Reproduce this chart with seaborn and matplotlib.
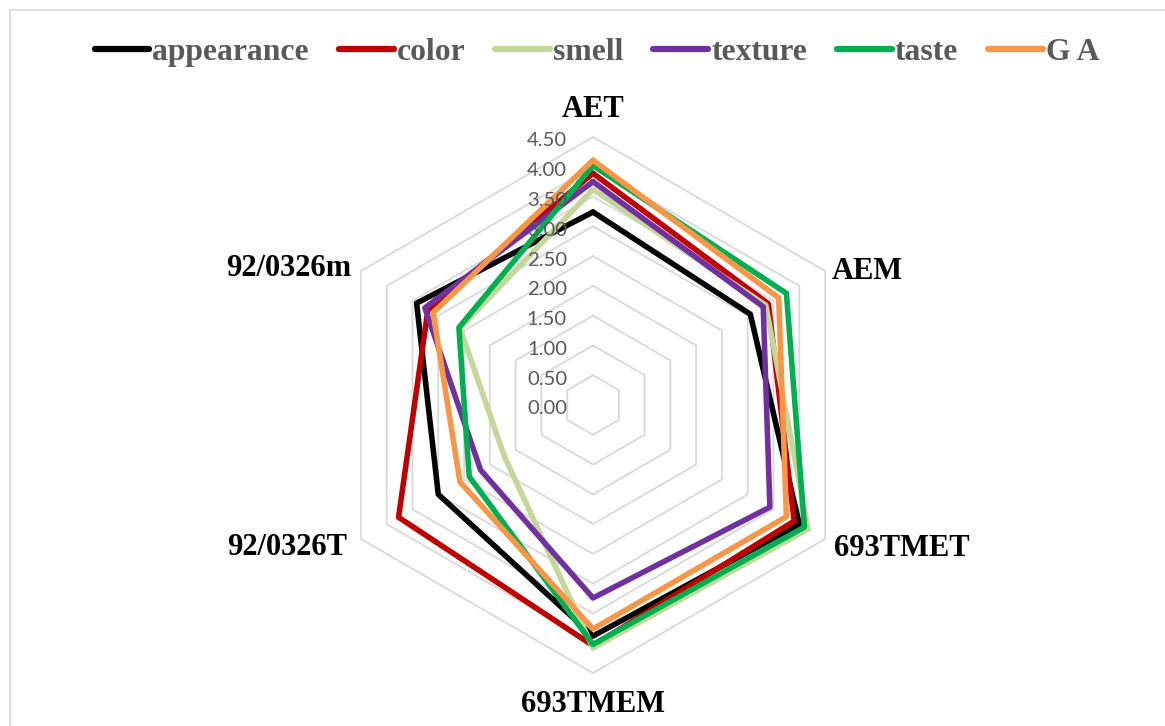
import numpy as np
import pandas as pd
import matplotlib
matplotlib.use("Agg")
import matplotlib.pyplot as plt
from matplotlib.lines import Line2D
from matplotlib.patches import Rectangle
import seaborn as sns

# Sensory scores per sample (clockwise from the top)
samples = ["AET", "AEM", "693TMET", "693TMEM", "92/0326T", "92/0326m"]
appearance = [3.24, 3.05, 4.00, 3.88, 3.00, 3.42]
color = [3.89, 3.40, 3.90, 4.04, 3.77, 3.20]
smell = [3.62, 3.35, 4.17, 4.08, 1.72, 2.58]
texture = [3.75, 3.30, 3.43, 3.24, 2.18, 3.26]
taste = [4.02, 3.75, 4.10, 4.02, 2.40, 2.60]
ga = [4.11, 3.60, 3.75, 3.76, 2.58, 3.10]

series_names = ["appearance", "color", "smell", "texture", "taste", "G A"]
series_values = [appearance, color, smell, texture, taste, ga]
series_colors = ["#000000", "#C00000", "#C4D79B", "#7030A0", "#00B050", "#F79646"]
ring_levels = [0.5, 1.0, 1.5, 2.0, 2.5, 3.0, 3.5, 4.0, 4.5]
tick_labels = ["0.00", "0.50", "1.00", "1.50", "2.00", "2.50", "3.00", "3.50", "4.00", "4.50"]

n = len(samples)
angles = np.linspace(0, 2 * np.pi, n, endpoint=False)
closed_angles = np.append(angles, 2 * np.pi)

rows = []
for name, vals in zip(series_names, series_values):
    for th, v in zip(closed_angles, vals + vals[:1]):
        rows.append({"attribute": name, "theta": th, "score": v})
df = pd.DataFrame(rows)

sns.set_theme(style="white")
plt.rcParams["font.family"] = ["Liberation Serif", "DejaVu Serif"]

W, H = 1165, 726
fig = plt.figure(figsize=(W / 100, H / 100), dpi=100)
fig.patch.set_facecolor("white")

# light frame around the chart area
fig.patches.append(Rectangle((10 / W, -0.1), 1.2, 1 - 10 / H + 0.1,
                             transform=fig.transFigure, fill=False,
                             edgecolor="#D9D9D9", linewidth=1.2))

cx, cy, R = 593, 405, 268
ax = fig.add_axes([(cx - R) / W, (H - cy - R) / H, 2 * R / W, 2 * R / H],
                  projection="polar")
ax.set_theta_zero_location("N")
ax.set_theta_direction(-1)
ax.grid(False)
ax.spines["polar"].set_visible(False)
ax.set_facecolor("none")

# hexagonal grid rings
for r in ring_levels:
    ax.plot(closed_angles, [r] * (n + 1), color="#D9D9D9", lw=1.3,
            zorder=1, clip_on=False)

palette = dict(zip(series_names, series_colors))
sns.lineplot(data=df, x="theta", y="score", hue="attribute",
             hue_order=series_names, palette=palette, sort=False,
             estimator=None, linewidth=4.0, legend=False, ax=ax)
for ln in ax.lines:
    ln.set_clip_on(False)
    ln.set_solid_joinstyle("round")

ax.set_xticks([])
ax.set_yticks([])
ax.set_ylim(0, 4.5)
ax.set_xlabel("")
ax.set_ylabel("")

# radial value labels along the top spoke
for i, lab in enumerate(tick_labels):
    ax.annotate(lab, xy=(0, i * 0.5), xycoords="data",
                xytext=(-26, -9.5), textcoords="offset pixels",
                ha="right", va="baseline", fontsize=14.6,
                family=["Lato", "DejaVu Sans"], color="#595959",
                annotation_clip=False)

# sample labels around the outer ring
label_offsets = [(0, 20, "center"), (7, -8, "left"), (9, -17, "left"),
                 (0, -39, "center"), (-14, -16, "right"), (-10, -5, "right")]
for th, name, (dx, dy, ha) in zip(angles, samples, label_offsets):
    ax.annotate(name, xy=(th, 4.5), xycoords="data",
                xytext=(dx, dy), textcoords="offset pixels",
                ha=ha, va="baseline", fontsize=22, fontweight="bold",
                color="black", annotation_clip=False)

handles = [Line2D([0], [0], color=c, lw=4.5, solid_capstyle="round")
           for c in series_colors]
leg = fig.legend(handles, series_names, loc="center",
                 bbox_to_anchor=(597 / W, 1 - 52 / H), ncol=6, frameon=False,
                 handlelength=1.72, handletextpad=0.1, columnspacing=0.95,
                 prop={"family": "Liberation Serif", "weight": "bold", "size": 22.8})
for t in leg.get_texts():
    t.set_color("#595959")

fig.savefig("out.png", dpi=100, facecolor="white")
